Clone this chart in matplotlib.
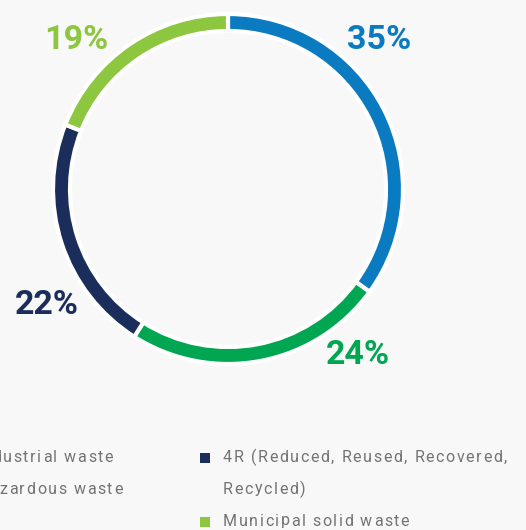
import matplotlib
matplotlib.use("Agg")
import matplotlib.pyplot as plt
from matplotlib.font_manager import FontProperties, findfont, get_font

# waste breakdown, clockwise from 12 o'clock
categories = ["Industrial waste", "Hazardous waste",
              "4R (Reduced, Reused, Recovered,\nRecycled)", "Municipal solid waste"]
shares = [35, 24, 22, 19]
colors = ["#0a7bc1", "#00a651", "#1b2d5b", "#8dc63f"]

W, H = 526, 530
DPI = 100
bg = "#f8f8f8"

fig = plt.figure(figsize=(W / DPI, H / DPI), dpi=DPI, facecolor=bg)
ax = fig.add_axes([0, 0, 1, 1])

cx, cy, r = 228, H - 189, 175
ax.pie(shares, colors=colors, startangle=90, counterclock=False,
       center=(cx, cy), radius=r, frame=True,
       wedgeprops=dict(width=17, edgecolor="white", linewidth=3))
ax.set_xlim(0, W)
ax.set_ylim(0, H)
ax.set_facecolor(bg)
ax.axis("off")

# percentage labels around the ring
label_pos = [(379, 40), (358, 355), (47, 305), (76, 40)]
for v, c, (x, y) in zip(shares, colors, label_pos):
    ax.text(x, H - y, f"{v}%", color=c, fontsize=24.5, fontweight="bold",
            family="Roboto", ha="center", va="center")

# letter-spaced legend text (axes units == pixels here)
LEG_SIZE = 11.5
TRACK = 1.6
leg_font = get_font(findfont(FontProperties(family="Roboto", size=LEG_SIZE)))
leg_font.set_size(LEG_SIZE, DPI)


def tracked_text(x, y, s, color):
    for ch in s:
        ax.text(x, y, ch, color=color, fontsize=LEG_SIZE, family="Roboto",
                ha="left", va="center")
        x += leg_font.load_char(ord(ch)).linearHoriAdvance / 65536 + TRACK


txt = "#737373"
row_h = 32
legend_items = [(-24, 457, 0), (-24, 489, 1), (223, 457, 2), (223, 521, 3)]
for x, y, i in legend_items:
    ax.scatter(x - 18, H - y - 1, marker="s", s=46, color=colors[i], linewidths=0)
    for k, line in enumerate(categories[i].split("\n")):
        tracked_text(x, H - y - k * row_h, line, txt)

fig.savefig("out.png", dpi=DPI, facecolor=bg)
